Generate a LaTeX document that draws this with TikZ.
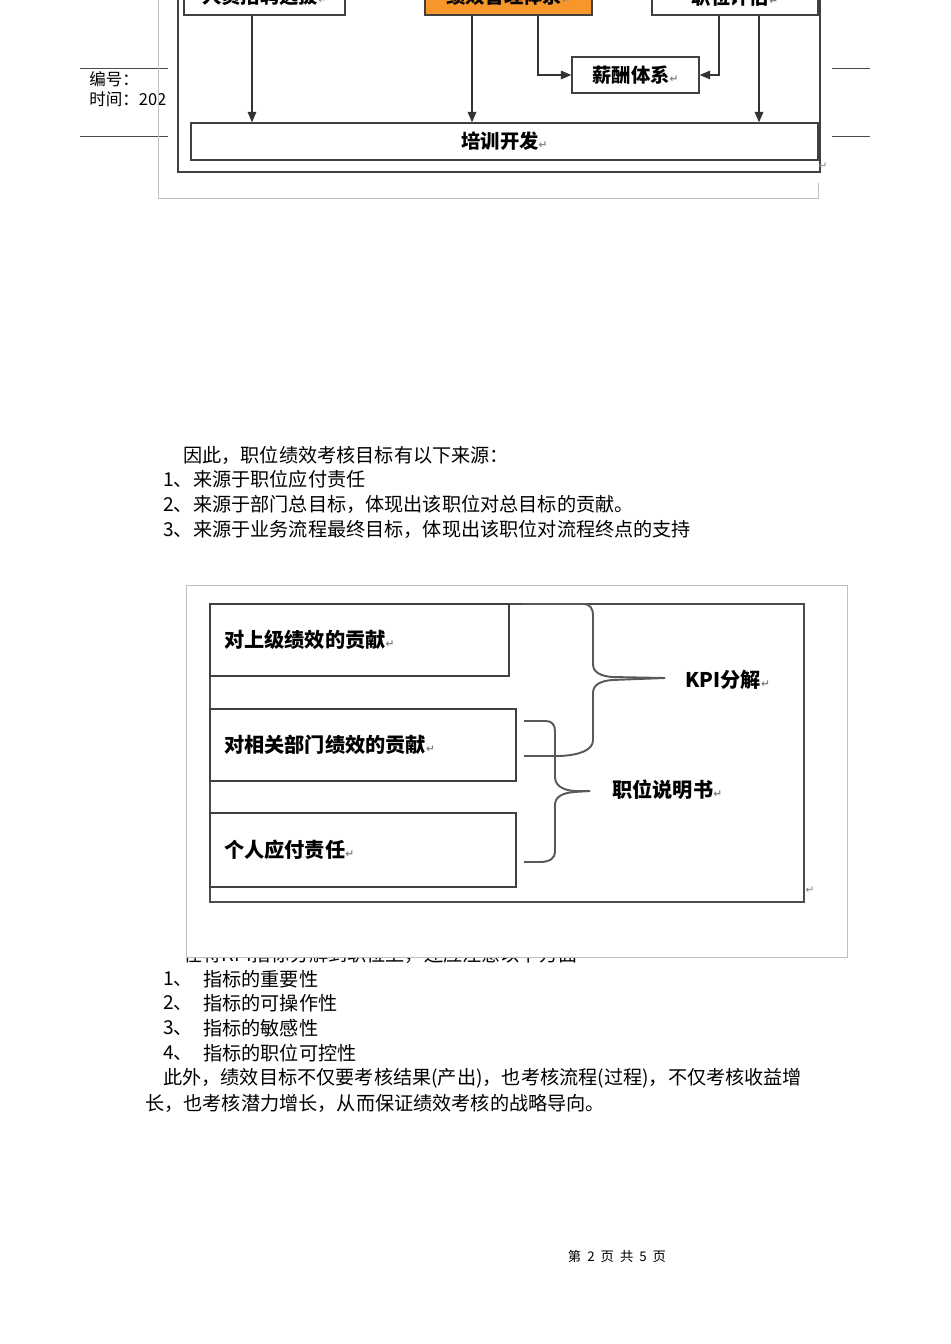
\documentclass[tikz,border=0pt]{standalone}
\usepackage{fontspec}
\setmainfont{Noto Sans CJK SC}
\newfontfamily\symfont{DejaVu Sans}
\usetikzlibrary{arrows.meta}
\definecolor{perforange}{RGB}{247,150,42}
\newcommand{\parmark}{{\symfont\fontsize{6pt}{6pt}\selectfont\color{gray}↵}}

\begin{document}
\begin{tikzpicture}[x=0.02cm,y=-0.02cm,
  box/.style={draw=black!75,line width=0.8pt,inner sep=0pt,font=\bfseries\fontsize{11pt}{11pt}\selectfont},
  kbox/.style={draw=black!75,line width=1.1pt,inner xsep=0.28cm,inner ysep=0pt,align=left,font=\bfseries\fontsize{11.5pt}{11.5pt}\selectfont},
  arr/.style={-{Triangle[length=6pt,width=5pt]},draw=black!80,line width=0.6pt},
  brace/.style={draw=black!65,line width=1.1pt},
  body/.style={anchor=west,inner sep=0pt,font=\fontsize{10.9pt}{10.9pt}\selectfont},
  head/.style={anchor=west,inner sep=0pt,font=\fontsize{9.4pt}{9.4pt}\selectfont},
  lbl/.style={inner sep=0pt,font=\bfseries\fontsize{11.5pt}{11.5pt}\selectfont}]
\useasboundingbox (0,0) rectangle (950,1344);
\fill[white] (0,0) rectangle (950,1344);
\clip (0,0) rectangle (950,1344);

% header
\draw[black!70,line width=0.5pt] (80,68) -- (168,68);
\draw[black!70,line width=0.5pt] (80,136) -- (168,136);
\draw[black!70,line width=0.5pt] (832,68) -- (870,68);
\draw[black!70,line width=0.5pt] (832,136) -- (870,136);
\node[head] (No) at (89,79) {编号：};
\node[head] (Date) at (89,99) {时间：202};

% first chart
\draw[black!25,line width=0.5pt] (158,-10) -- (158,198) -- (818,198) -- (818,183);
\draw[black!75,line width=0.9pt] (178,-40) rectangle (820,172);
\node[box,minimum width=3.22cm,minimum height=0.74cm] (Recruit) at (264.5,-3.5) {人员招聘选拔\parmark};
\node[box,fill=perforange,minimum width=3.34cm,minimum height=0.74cm] (Perf) at (508.5,-3.5) {绩效管理体系\parmark};
\node[box,minimum width=3.32cm,minimum height=0.74cm] (Eval) at (735,-3.5) {职位评估\parmark};
\node[box,minimum width=2.54cm,minimum height=0.72cm] (Pay) at (635.5,75) {薪酬体系\parmark};
\node[box,minimum width=12.54cm,minimum height=0.74cm] (Train) at (504.5,141.5) {培训开发\parmark};
\node[inner sep=0pt] (EndA) at (823,166) {\parmark};

\draw[arr] ([xshift=-0.25cm]Recruit.south) -- ([xshift=-0.25cm]Recruit.south |- Train.north);
\draw[arr] ([xshift=-0.73cm]Perf.south) -- ([xshift=-0.73cm]Perf.south |- Train.north);
\draw[arr] ([xshift=0.48cm]Eval.south) -- ([xshift=0.48cm]Eval.south |- Train.north);
\draw[arr] ([xshift=0.59cm]Perf.south) |- (Pay.west);
\draw[arr] ([xshift=-0.32cm]Eval.south) |- (Pay.east);

% text
\node[body] (Intro) at (183,455) {因此，职位绩效考核目标有以下来源：};
\node[body] (SrcA) at (163,479) {1、来源于职位应付责任};
\node[body] (SrcB) at (163,504) {2、来源于部门总目标，体现出该职位对总目标的贡献。};
\node[body] (SrcC) at (163,529) {3、来源于业务流程最终目标，体现出该职位对流程终点的支持};

% second chart
\draw[black!25,line width=0.5pt] (186,585) rectangle (847,957);
\draw[black!70,line width=1.6pt] (210,604) rectangle (804,902);
\node[kbox,minimum width=5.98cm,minimum height=1.44cm,text width=5.42cm] (Upper) at (359.5,640) {对上级绩效的贡献\parmark};
\node[kbox,minimum width=6.12cm,minimum height=1.44cm,text width=5.56cm] (Dept) at (363,745) {对相关部门绩效的贡献\parmark};
\node[kbox,minimum width=6.12cm,minimum height=1.48cm,text width=5.56cm] (Duty) at (363,850) {个人应付责任\parmark};

\coordinate (KpiTip) at (665,678);
\coordinate (DocTip) at (590,791);
\draw[brace] (522,604) -- (583,604) .. controls (590,604) and (593,608) .. (593,616) -- (593,664)
  .. controls (593,672) and (600,676) .. (612,677) -- (KpiTip);
\draw[brace] (KpiTip) -- (612,680) .. controls (600,681) and (593,685) .. (593,693) -- (593,740)
  .. controls (593,750) and (580,755) .. (560,756) -- (524,756);
\draw[brace] (524,721) -- (546,721) .. controls (552,721) and (555,725) .. (555,731) -- (555,777)
  .. controls (555,785) and (562,790) .. (574,791) -- (DocTip);
\draw[brace] (DocTip) -- (574,792) .. controls (562,793) and (555,797) .. (555,805) -- (555,852)
  .. controls (555,858) and (550,862) .. (540,862) -- (524,862);
\node[lbl,anchor=west] (Kpi) at (685,680) {KPI分解\parmark};
\node[lbl,anchor=west] (Doc) at (612,790) {职位说明书\parmark};
\node[inner sep=0pt] (EndB) at (810,890) {\parmark};

% text below
\begin{scope}
\clip (0,958) rectangle (950,975);
\node[body] (Note) at (183,954) {在将KPI指标分解到职位上，还应注意以下方面};
\end{scope}
\foreach \n/\t [count=\i] in {1/指标的重要性,2/指标的可操作性,3/指标的敏感性,4/指标的职位可控性}{
  \node[body] (Num\i) at (163,954+24.75*\i) {\n、};
  \node[body] (Item\i) at (203,954+24.75*\i) {\t};
}
\node[body] (MoreA) at (163,1078) {此外，绩效目标不仅要考核结果(产出)，也考核流程(过程)，不仅考核收益增};
\node[body] (MoreB) at (145,1103) {长，也考核潜力增长，从而保证绩效考核的战略导向。};

% footer
\node[inner sep=0pt,font=\fontsize{7.6pt}{7.6pt}\selectfont] (Page) at (617,1256) {第\ \ 2\ \ 页\ \ 共\ \ 5\ \ 页};
\end{tikzpicture}
\end{document}
